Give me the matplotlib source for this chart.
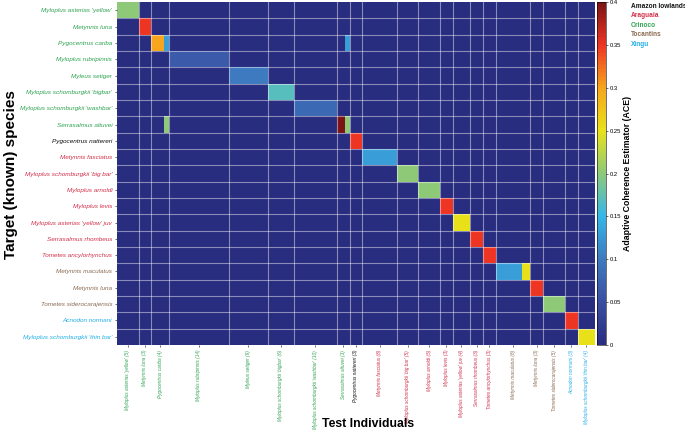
import numpy as np
import matplotlib
matplotlib.use('Agg')
import matplotlib.pyplot as plt
from matplotlib.colors import LinearSegmentedColormap

# especies objetivo (filas) y grupos de individuos de prueba (columnas)
species = ["Myloplus asterias 'yellow'", "Metynnis luna", "Pygocentrus cariba",
           "Myloplus rubripinnis", "Myleus setiger", "Myloplus schomburgkii 'bigbar'",
           "Myloplus schomburgkii 'washbar'", "Serrasalmus altuvei", "Pygocentrus nattereri",
           "Metynnis fasciatus", "Myloplus schomburgkii 'big bar'", "Myloplus arnoldi",
           "Myloplus levis", "Myloplus asterias 'yellow' juv", "Serrasalmus rhombeus",
           "Tometes ancylorhynchus", "Metynnis maculatus", "Metynnis luna",
           "Tometes siderocarajensis", "Acnodon normani", "Myloplus schomburgkii 'thin bar'"]
counts = [5, 3, 4, 14, 9, 6, 10, 3, 3, 8, 5, 5, 3, 4, 3, 3, 8, 3, 5, 3, 4]
regions = ['Orinoco'] * 8 + ['Amazon lowlands'] + ['Araguaia'] * 7 + ['Tocantins'] * 3 + ['Xingu'] * 2

# celdas con valor ACE: (fila, columna inicial, columna final, valor)
hits = [
    (0, 0, 5, 0.20),
    (1, 5, 8, 0.35),
    (2, 8, 11, 0.30), (2, 11, 12, 0.13), (2, 53, 54, 0.13),
    (3, 12, 26, 0.065),
    (4, 26, 35, 0.10),
    (5, 35, 41, 0.17),
    (6, 41, 51, 0.08),
    (7, 51, 53, 0.40), (7, 53, 54, 0.20), (7, 11, 12, 0.20),
    (8, 54, 57, 0.35),
    (9, 57, 65, 0.13),
    (10, 65, 70, 0.20),
    (11, 70, 75, 0.20),
    (12, 75, 78, 0.35),
    (13, 78, 82, 0.25),
    (14, 82, 85, 0.35),
    (15, 85, 88, 0.35),
    (16, 88, 94, 0.13), (16, 94, 96, 0.25),
    (17, 96, 99, 0.35),
    (18, 99, 104, 0.20),
    (19, 104, 107, 0.35),
    (20, 107, 111, 0.25),
]

region_colors = {'Amazon lowlands': '#111111', 'Araguaia': '#d2304a', 'Orinoco': '#2fa352',
                 'Tocantins': '#8a6a52', 'Xingu': '#22aee8'}

cmap = LinearSegmentedColormap.from_list('ace', [
    (0.0, '#292d80'), (0.125, '#3a4fa2'), (0.25, '#3d7abf'), (0.375, '#36b6e8'),
    (0.5, '#8dc97a'), (0.625, '#e8e21a'), (0.75, '#f6a51d'), (0.875, '#ee3524'),
    (1.0, '#7a1416')])

n_cols = sum(counts)
M = np.zeros((len(species), n_cols))
for r, c0, c1, v in hits:
    M[r, c0:c1] = v

edges = np.concatenate([[0], np.cumsum(counts)])
centers = (edges[:-1] + edges[1:]) / 2

plt.rcParams['font.family'] = ['Liberation Sans', 'DejaVu Sans']

fig = plt.figure(figsize=(6.85, 4.30), dpi=100)
ax = fig.add_axes([0.1708, 0.1977, 0.6978, 0.7976])
mesh = ax.pcolormesh(np.arange(n_cols + 1), np.arange(len(species) + 1), M,
                     cmap=cmap, vmin=0, vmax=0.4)
ax.set_xlim(0, n_cols)
ax.set_ylim(len(species), 0)

for x in edges[1:-1]:
    ax.axvline(x, color='white', alpha=0.45, lw=0.8)
for y in range(1, len(species)):
    ax.axhline(y, color='white', alpha=0.45, lw=0.8)
for s in ax.spines.values():
    s.set_visible(False)

ax.set_yticks(np.arange(len(species)) + 0.5)
ax.set_yticklabels(species, fontsize=4.6, style='italic')
for lab, reg in zip(ax.get_yticklabels(), regions):
    lab.set_color(region_colors[reg])
ax.set_xticks(centers)
ax.set_xticklabels([f'{s} ({n})' for s, n in zip(species, counts)],
                   fontsize=3.4, style='italic', rotation=90, va='top')
for lab, reg in zip(ax.get_xticklabels(), regions):
    lab.set_color(region_colors[reg])
ax.tick_params(axis='both', length=1.5, width=0.5, color='#333333', pad=2)

fig.text(0.016, 0.593, 'Target (known) species', rotation=90, fontsize=11,
         fontweight='bold', ha='center', va='center')
fig.text(0.537, 0.014, 'Test Individuals', fontsize=8.8, fontweight='bold',
         ha='center', va='center')

cax = fig.add_axes([0.872, 0.1977, 0.012, 0.7976])
cb = fig.colorbar(mesh, cax=cax, ticks=np.arange(0, 0.401, 0.05))
cb.ax.set_yticklabels(['0', '0.05', '0.1', '0.15', '0.2', '0.25', '0.3', '0.35', '0.4'])
cb.ax.tick_params(labelsize=4.2, length=1.5, width=0.4, pad=1.5)
cb.outline.set_linewidth(0.4)
cb.set_label('Adaptive Coherence Estimator (ACE)', fontsize=6.3, fontweight='bold',
             labelpad=1)

# leyenda de regiones
for i, reg in enumerate(['Amazon lowlands', 'Araguaia', 'Orinoco', 'Tocantins', 'Xingu']):
    fig.text(0.921, 0.993 - i * 0.022, reg, fontsize=4.7, fontweight='bold',
             color=region_colors[reg], va='top')

fig.savefig('out.png', dpi=100)
